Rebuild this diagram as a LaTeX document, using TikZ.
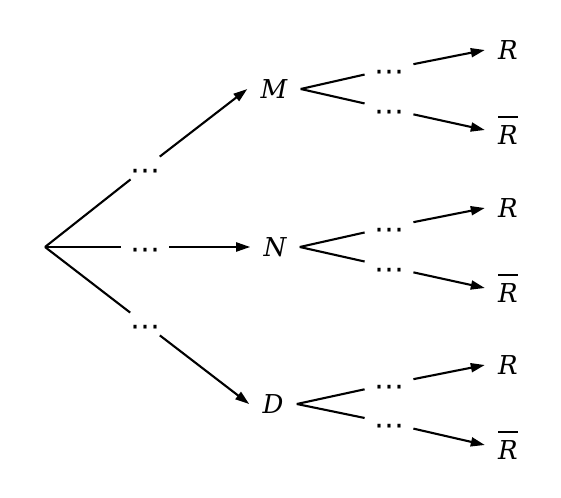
\documentclass[tikz,border=0pt]{standalone}
\usepackage{fontspec}
\setmainfont{DejaVu Serif}
\newfontfamily\dotfont{DejaVu Sans}
\usetikzlibrary{arrows.meta}
\newcommand\dts{\raisebox{-1.3pt}[10pt][0pt]{⋯}}
\newcommand\rbarlbl{\vbox{\hrule height 1.25pt\kern3.5pt\hbox{R}}}
\tikzset{
  lab/.style={font=\fontsize{13}{16}\selectfont\itshape, inner xsep=6.5pt, inner ysep=3pt},
  dotsbox/.style={font=\dotfont\fontsize{15}{18}\selectfont, inner xsep=4.5pt, inner ysep=0.5pt},
  conn/.style={line width=1.05pt},
  arr/.style={conn, -{Triangle[length=7pt,width=4.5pt]}}
}
\begin{document}
\begin{tikzpicture}[x=0.5pt,y=-0.5pt]
\useasboundingbox (0,0) rectangle (561,497);
% level 0
\coordinate (root) at (45,247);
% level 1
\node[lab] (M) at (274,89) {M};
\node[lab] (N) at (275,247) {N};
\node[lab] (D) at (273,404) {D};
\node[dotsbox] (a1) at (145,168) {\dts};
\node[dotsbox] (a2) at (145,247) {\dts};
\node[dotsbox] (a3) at (145,324) {\dts};
\draw[conn] (root) -- (a1);
\draw[arr] (a1) -- (M.west);
\draw[conn] (root) -- (a2);
\draw[arr] (a2) -- (N.west);
\draw[conn] (root) -- (a3);
\draw[arr] (a3) -- (D.west);
% level 2 : M
\node[dotsbox] (m1) at (389,69) {\dts};
\node[dotsbox] (m2) at (389,109) {\dts};
\node[lab] (mR) at (508,50) {R};
\node[lab] (mRb) at (508,130) {\rbarlbl};
\draw[conn] (M.east) -- (m1);
\draw[arr] (m1) -- (mR.west);
\draw[conn] (M.east) -- (m2);
\draw[arr] (m2) -- (mRb.west);
% level 2 : N
\node[dotsbox] (n1) at (389,227) {\dts};
\node[dotsbox] (n2) at (389,267) {\dts};
\node[lab] (nR) at (508,208) {R};
\node[lab] (nRb) at (508,288) {\rbarlbl};
\draw[conn] (N.east) -- (n1);
\draw[arr] (n1) -- (nR.west);
\draw[conn] (N.east) -- (n2);
\draw[arr] (n2) -- (nRb.west);
% level 2 : D
\node[dotsbox] (d1) at (389,384) {\dts};
\node[dotsbox] (d2) at (389,423) {\dts};
\node[lab] (dR) at (508,365) {R};
\node[lab] (dRb) at (508,445) {\rbarlbl};
\draw[conn] (D.east) -- (d1);
\draw[arr] (d1) -- (dR.west);
\draw[conn] (D.east) -- (d2);
\draw[arr] (d2) -- (dRb.west);
\end{tikzpicture}
\end{document}
